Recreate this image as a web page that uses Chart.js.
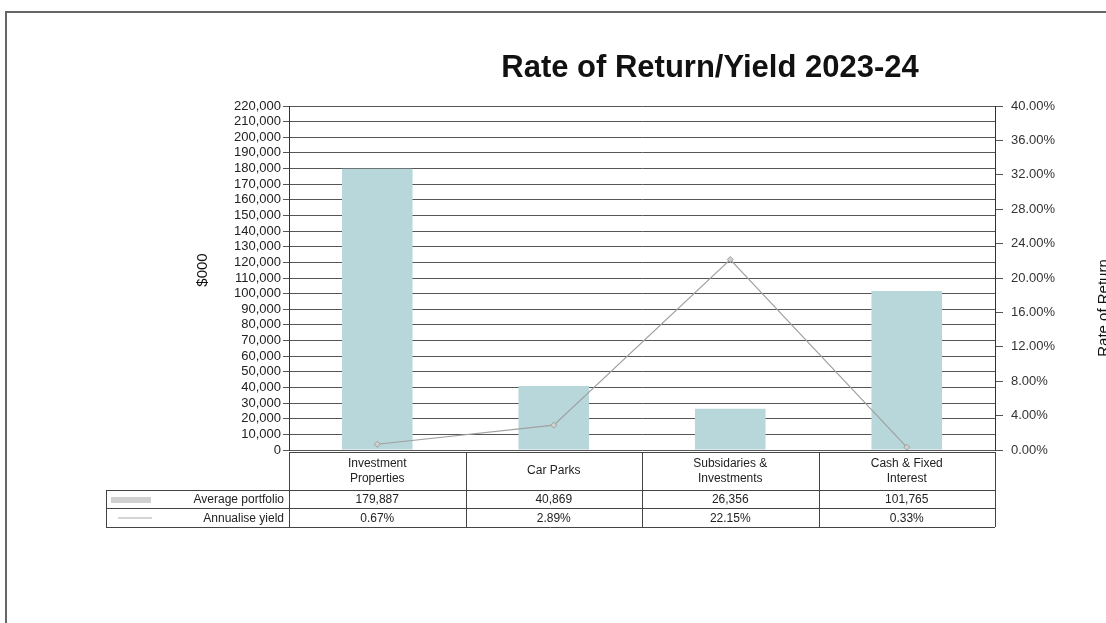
<!DOCTYPE html>
<html>
<head>
<meta charset="utf-8">
<script src="https://cdn.jsdelivr.net/npm/chart.js@4"></script>
<style>
  html, body { margin: 0; padding: 0; background: #fff; }
  #wrap { width: 1106px; height: 623px; position: relative; }
</style>
</head>
<body>
<div id="wrap"><canvas id="yieldChart" width="1106" height="623"></canvas></div>
<script>
// data
const categories = [['Investment', 'Properties'], ['Car Parks'], ['Subsidaries &', 'Investments'], ['Cash & Fixed', 'Interest']];
const avgPortfolio = [179887, 40869, 26356, 101765];
const annualYield = [0.0067, 0.0289, 0.2215, 0.0033];
const chartTitle = 'Rate of Return/Yield 2023-24';
const leftAxisTitle = '$000';
const rightAxisTitle = 'Rate of Return';
const rowLabels = ['Average portfolio', 'Annualise yield'];

const fmtNum = v => v.toLocaleString('en-US');
const fmtPct = v => (v * 100).toFixed(2) + '%';

// frame, title, axis titles and the data table under the plot
const extrasPlugin = {
    id: 'extras',
    beforeDraw(chart) {
        const c = chart.ctx;
        c.save();
        c.strokeStyle = '#666';
        c.lineWidth = 2;
        c.beginPath();
        c.moveTo(6, 623);
        c.lineTo(6, 12);
        c.lineTo(1106, 12);
        c.stroke();
        c.restore();
    },
    afterDraw(chart) {
        const c = chart.ctx;
        const area = chart.chartArea;
        const x = chart.scales.x;
        c.save();

        // title
        c.fillStyle = '#111';
        c.font = 'bold 31px "Liberation Sans", Arial, sans-serif';
        c.textAlign = 'center';
        c.textBaseline = 'middle';
        c.fillText(chartTitle, 710, 68);

        // axis titles
        c.font = '15px "Liberation Sans", Arial, sans-serif';
        c.save();
        c.translate(203, 270);
        c.rotate(-Math.PI / 2);
        c.fillText(leftAxisTitle, 0, 0);
        c.restore();
        c.save();
        c.translate(1104, 308);
        c.rotate(-Math.PI / 2);
        c.fillText(rightAxisTitle, 0, 0);
        c.restore();

        // table
        const top = area.bottom + 2;
        const headBottom = 490;
        const row1 = 508;
        const row2 = 527;
        const legendLeft = 106;
        const step = x.getPixelForValue(1) - x.getPixelForValue(0);
        const bounds = [area.left];
        for (let i = 0; i < categories.length; i++) bounds.push(x.getPixelForValue(i) + step / 2);

        c.strokeStyle = '#444';
        c.lineWidth = 1;
        c.beginPath();
        c.moveTo(area.left, top + 0.5); c.lineTo(area.right, top + 0.5);
        [headBottom, row1, row2].forEach(y => {
            c.moveTo(legendLeft, y + 0.5); c.lineTo(area.right, y + 0.5);
        });
        bounds.forEach(bx => {
            c.moveTo(Math.round(bx) + 0.5, top); c.lineTo(Math.round(bx) + 0.5, row2);
        });
        c.moveTo(legendLeft + 0.5, headBottom); c.lineTo(legendLeft + 0.5, row2);
        c.stroke();

        c.fillStyle = '#222';
        c.font = '12px "Liberation Sans", Arial, sans-serif';
        c.textAlign = 'center';
        categories.forEach((lines, i) => {
            const cx = x.getPixelForValue(i);
            const mid = (top + headBottom) / 2;
            lines.forEach((t, j) => {
                c.fillText(t, cx, mid + (j - (lines.length - 1) / 2) * 15);
            });
            c.fillText(fmtNum(avgPortfolio[i]), cx, (headBottom + row1) / 2 + 1);
            c.fillText(fmtPct(annualYield[i]), cx, (row1 + row2) / 2 + 1);
        });

        // legend keys in the table
        c.textAlign = 'right';
        c.fillText(rowLabels[0], area.left - 5, (headBottom + row1) / 2 + 1);
        c.fillText(rowLabels[1], area.left - 5, (row1 + row2) / 2 + 1);
        c.fillStyle = '#d0d0d0';
        c.fillRect(legendLeft + 5, (headBottom + row1) / 2 - 2, 40, 6);
        c.strokeStyle = '#aaa';
        c.beginPath();
        c.moveTo(legendLeft + 12, (row1 + row2) / 2 + 0.5);
        c.lineTo(legendLeft + 46, (row1 + row2) / 2 + 0.5);
        c.stroke();
        c.restore();
    }
};

const ctx = document.getElementById('yieldChart').getContext('2d');
const yieldChart = new Chart(ctx, {
    type: 'bar',
    data: {
        labels: categories,
        datasets: [{
            label: rowLabels[0],
            data: avgPortfolio,
            yAxisID: 'y',
            backgroundColor: '#b8d7db',
            barPercentage: 0.4,
            categoryPercentage: 1.0,
            order: 2
        }, {
            type: 'line',
            label: rowLabels[1],
            data: annualYield,
            yAxisID: 'y1',
            borderColor: '#a0a0a0',
            borderWidth: 1.2,
            pointStyle: 'rectRot',
            pointRadius: 3,
            pointBackgroundColor: '#d0d0d0',
            pointBorderColor: '#a0a0a0',
            pointBorderWidth: 1,
            tension: 0,
            order: 1
        }]
    },
    options: {
        responsive: false,
        animation: false,
        layout: { padding: { top: 106, bottom: 173, left: 100, right: 0 } },
        plugins: {
            legend: { display: false },
            title: { display: false },
            tooltip: { enabled: false }
        },
        scales: {
            x: { display: false },
            y: {
                position: 'left',
                min: 0,
                max: 220000,
                afterFit: s => { s.width = 189; },
                ticks: {
                    stepSize: 10000,
                    autoSkip: false,
                    color: '#222',
                    padding: 2,
                    font: { family: '"Liberation Sans", Arial, sans-serif', size: 13 },
                    callback: v => fmtNum(v)
                },
                grid: { color: '#555', lineWidth: 1, tickLength: 6 },
                border: { color: '#333', width: 1 }
            },
            y1: {
                position: 'right',
                min: 0,
                max: 0.40,
                afterFit: s => { s.width = 111; },
                ticks: {
                    stepSize: 0.04,
                    autoSkip: false,
                    color: '#333',
                    padding: 8,
                    font: { family: '"Liberation Sans", Arial, sans-serif', size: 13 },
                    callback: v => fmtPct(v)
                },
                grid: { drawOnChartArea: false, color: '#555', tickLength: 8 },
                border: { color: '#333', width: 1 }
            }
        }
    },
    plugins: [extrasPlugin]
});
</script>
</body>
</html>
